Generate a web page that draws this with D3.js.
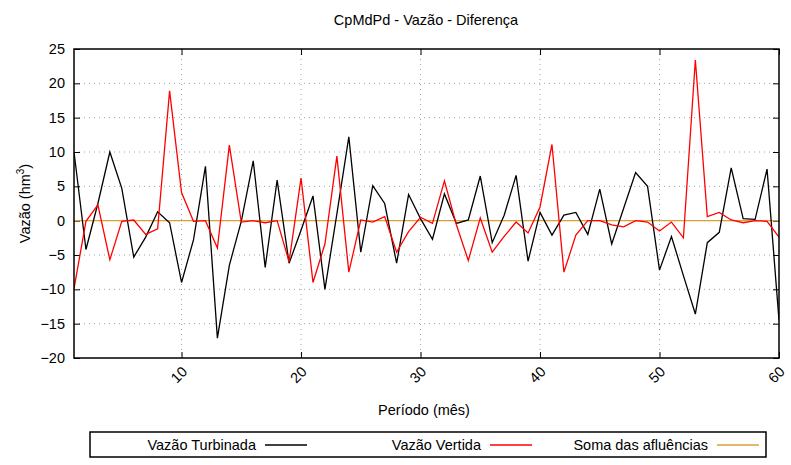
<!DOCTYPE html>
<html>
<head>
<meta charset="utf-8">
<script src="https://cdn.jsdelivr.net/npm/d3@7"></script>
<style>
    body { margin: 0; background: #fff; }
    svg { display: block; font-family: "Liberation Sans", Arial, sans-serif; }
    .grid line { stroke: #a0a0a0; stroke-dasharray: 1 4; stroke-width: 1; }
</style>
</head>
<body>
<div id="chart"></div>
<script>
    // Periodo (mes) 1..60
    const periodos = d3.range(1, 61);
    const vazaoTurbinada = [10.0, -4.2, 2.5, 10.0, 4.7, -5.3, -2.4, 1.3, -0.3, -9.0,
        -2.8, 7.9, -17.1, -6.5, -0.1, 8.7, -6.8, 5.9, -6.2, -1.4,
        3.6, -10.0, 1.0, 12.2, -4.6, 5.1, 2.5, -6.2, 3.8, 0.3,
        -2.7, 3.9, -0.4, 0.1, 6.5, -3.2, 0.8, 6.6, -5.9, 1.2,
        -2.1, 0.8, 1.2, -2.0, 4.6, -3.4, 1.8, 7.0, 5.0, -7.2,
        -2.3, -8.0, -13.6, -3.2, -1.7, 7.7, 0.3, 0.2, 7.5, -14.5];
    const vazaoVertida = [-9.9, -0.1, 2.3, -5.7, -0.1, 0.1, -2.0, -1.2, 18.9, 4.1,
        -0.1, 0.0, -4.0, 11.0, -0.2, 0.0, -0.3, 0.0, -6.0, 6.2,
        -9.0, -3.4, 9.4, -7.5, 0.1, -0.2, 0.6, -4.6, -1.6, 0.5,
        -0.4, 5.8, -0.6, -5.8, 0.4, -4.6, -2.3, -0.2, -1.8, 2.0,
        11.1, -7.5, -2.1, 0.0, 0.0, -0.6, -0.9, 0.0, -0.2, -1.5,
        -0.2, -2.5, 23.4, 0.6, 1.2, 0.1, -0.3, 0.0, -0.1, -2.4];
    const somaAfluencias = [0, 0, 0, 0, 0, 0, 0, 0, 0, 0,
        0, 0, 0, 0, 0, 0, 0, 0, 0, 0,
        0, 0, 0, 0, 0, 0, 0, 0, 0, 0,
        0, 0, 0, 0, 0, 0, 0, 0, 0, 0,
        0, 0, 0, 0, 0, 0, 0, 0, 0, 0,
        0, 0, 0, 0, 0, 0, 0, 0, 0, 0];
    const xTicks = [10, 20, 30, 40, 50, 60];
    const yTicks = [-20, -15, -10, -5, 0, 5, 10, 15, 20, 25];

    const series = [
        { name: 'Vazão Turbinada', values: vazaoTurbinada, color: '#000000' },
        { name: 'Vazão Vertida', values: vazaoVertida, color: '#ff0000' },
        { name: 'Soma das afluências', values: somaAfluencias, color: '#dca034' }
    ];

    const width = 791, height = 465;
    const margin = { top: 49, right: 12, bottom: 107, left: 74 };
    const innerW = width - margin.left - margin.right;
    const innerH = height - margin.top - margin.bottom;
    const fs = 14.5;

    const svg = d3.select('#chart').append('svg')
        .attr('width', width)
        .attr('height', height);

    const x = d3.scaleLinear().domain([1, 60]).range([0, innerW]);
    const y = d3.scaleLinear().domain([-20, 25]).range([innerH, 0]);

    const g = svg.append('g').attr('transform', `translate(${margin.left},${margin.top})`);

    // dotted grid
    const grid = g.append('g').attr('class', 'grid');
    grid.selectAll('line.gy')
        .data(yTicks.filter(d => d > -20 && d < 25))
        .enter().append('line')
        .attr('x1', 0).attr('x2', innerW)
        .attr('y1', d => y(d)).attr('y2', d => y(d));
    grid.selectAll('line.gx')
        .data(xTicks.filter(d => d < 60))
        .enter().append('line')
        .attr('y1', 0).attr('y2', innerH)
        .attr('x1', d => x(d)).attr('x2', d => x(d));

    // axes (ticks inward, mirrored)
    const tickLen = 6;
    const yAxisL = g.append('g')
        .call(d3.axisLeft(y).tickValues(yTicks).tickSize(-tickLen).tickPadding(9));
    const yAxisR = g.append('g').attr('transform', `translate(${innerW},0)`)
        .call(d3.axisRight(y).tickValues(yTicks).tickSize(-tickLen).tickFormat(''));
    const xAxisB = g.append('g').attr('transform', `translate(0,${innerH})`)
        .call(d3.axisBottom(x).tickValues(xTicks).tickSize(-tickLen).tickFormat(''));
    const xAxisT = g.append('g')
        .call(d3.axisTop(x).tickValues(xTicks).tickSize(-tickLen).tickFormat(''));

    [yAxisL, yAxisR, xAxisB, xAxisT].forEach(a => {
        a.select('.domain').remove();
        a.selectAll('line').attr('stroke', '#000');
    });
    yAxisL.selectAll('text')
        .attr('font-size', fs)
        .attr('fill', '#000')
        .attr('font-family', '"Liberation Sans", Arial, sans-serif');

    // rotated x tick labels
    g.append('g').selectAll('text')
        .data(xTicks)
        .enter().append('text')
        .attr('transform', d => `translate(${x(d) + 3},${innerH + 11}) rotate(-45)`)
        .attr('text-anchor', 'end')
        .attr('dy', '0.35em')
        .attr('font-size', fs)
        .text(d => d);

    // lines
    const line = d3.line()
        .x((d, i) => x(periodos[i]))
        .y(d => y(d));

    svg.append('clipPath').attr('id', 'clip')
        .append('rect').attr('width', innerW).attr('height', innerH);

    g.append('g').attr('clip-path', 'url(#clip)')
        .selectAll('path')
        .data([series[2], series[0], series[1]])
        .enter().append('path')
        .attr('d', s => line(s.values))
        .attr('fill', 'none')
        .attr('stroke', s => s.color)
        .attr('stroke-width', 1.3)
        .attr('stroke-linejoin', 'miter');

    // frame
    g.append('rect')
        .attr('width', innerW).attr('height', innerH)
        .attr('fill', 'none')
        .attr('stroke', '#000')
        .attr('stroke-width', 1.5);

    // title and axis labels
    svg.append('text')
        .attr('x', 426).attr('y', 25)
        .attr('text-anchor', 'middle')
        .attr('font-size', fs)
        .text('CpMdPd - Vazão - Diferença');

    svg.append('text')
        .attr('x', 424).attr('y', 415)
        .attr('text-anchor', 'middle')
        .attr('font-size', fs)
        .text('Período (mês)');

    const yl = svg.append('text')
        .attr('transform', `translate(30,${margin.top + innerH / 2}) rotate(-90)`)
        .attr('text-anchor', 'middle')
        .attr('font-size', fs);
    yl.append('tspan').text('Vazão (hm');
    yl.append('tspan').attr('font-size', 10).attr('dy', -6).text('3');
    yl.append('tspan').attr('dy', 6).text(')');

    // legend
    const legend = svg.append('g');
    legend.append('rect')
        .attr('x', 90).attr('y', 432)
        .attr('width', 676).attr('height', 25)
        .attr('fill', 'none')
        .attr('stroke', '#000')
        .attr('stroke-width', 1.5);

    const legendEnds = [256, 481, 708];
    series.forEach((s, i) => {
        const ex = legendEnds[i];
        legend.append('text')
            .attr('x', ex).attr('y', 445)
            .attr('dy', '0.35em')
            .attr('text-anchor', 'end')
            .attr('font-size', fs)
            .text(s.name);
        legend.append('line')
            .attr('x1', ex + 9).attr('x2', ex + 51)
            .attr('y1', 445).attr('y2', 445)
            .attr('stroke', s.color)
            .attr('stroke-width', 1.3);
    });
</script>
</body>
</html>
